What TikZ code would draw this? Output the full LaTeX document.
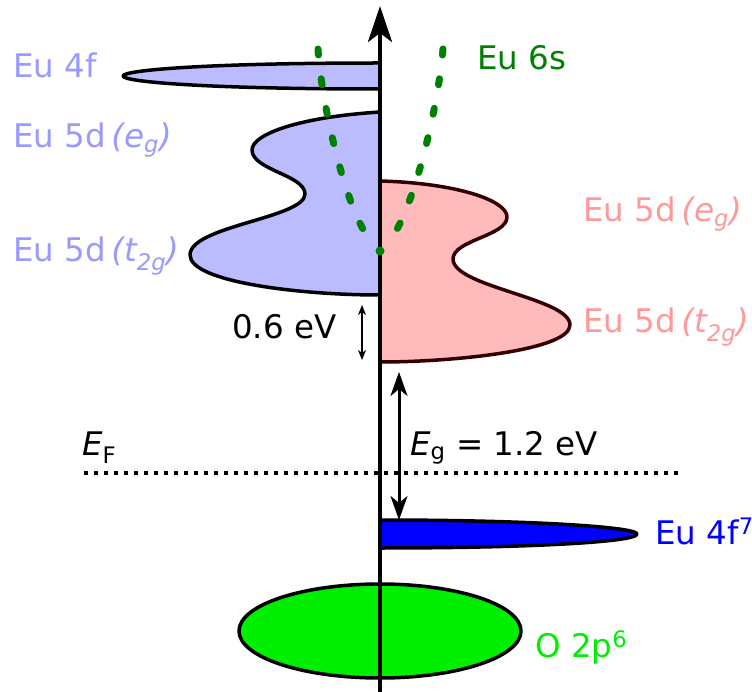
\documentclass[tikz,border=0pt]{standalone}
\usepackage{fontspec}
\setmainfont{DejaVu Sans}
\usetikzlibrary{arrows.meta}
\definecolor{lblue}{RGB}{153,153,255}
\definecolor{lbfill}{RGB}{187,187,255}
\definecolor{pinkfill}{RGB}{255,187,187}
\definecolor{pinktxt}{RGB}{255,153,153}
\definecolor{dkgreen}{RGB}{0,128,0}
\definecolor{brgreen}{RGB}{0,238,0}
\definecolor{dkred}{RGB}{50,0,0}
\definecolor{fblue}{RGB}{0,0,255}
\begin{document}
\begin{tikzpicture}[x=1pt,y=-1pt,
  lbl/.style={anchor=base west, inner sep=0pt, font=\fontsize{32.5}{39}\selectfont},
  band/.style={line width=3.5pt, line join=round},
  sdash/.style={dkgreen, line width=7pt, line cap=round, dash pattern=on 6pt off 24pt, shorten >=14pt},
  gaparrow/.style={line width=3pt, {Stealth[length=24pt,width=17pt,inset=7pt]}-{Stealth[length=24pt,width=17pt,inset=7pt]}},
  smallarrow/.style={line width=1.5pt, {Stealth[length=10pt,width=8pt,inset=3pt]}-{Stealth[length=10pt,width=8pt,inset=3pt]}}]
\useasboundingbox (0,0) rectangle (752,692);
% coordinates
\coordinate (axbot) at (380,692);
\coordinate (axtop) at (380,6);
\coordinate (vtx) at (380,251);
\coordinate (sl) at (318,49);
\coordinate (sr) at (443,49);
\coordinate (a6t) at (362,305);
\coordinate (a6b) at (362,360);
\coordinate (agt) at (399,372);
\coordinate (agb) at (399,520);
\coordinate (efl) at (84,473);
\coordinate (efr) at (681,473);
% Eu 4f (left)
\draw[band, fill=lbfill] (380,63) .. controls (210,63) and (123,70) .. (123,76)
  .. controls (123,82) and (210,89) .. (380,89) -- cycle;
% Eu 5d left
\draw[band, fill=lbfill] (380,112) .. controls (300,117) and (252,134) .. (252,150)
  .. controls (252,170) and (305,175) .. (305,194)
  .. controls (305,218) and (190,226) .. (190,255)
  .. controls (190,282) and (300,295) .. (380,295) -- cycle;
% Eu 5d right (pink)
\draw[band, draw=dkred, fill=pinkfill] (380,181) .. controls (455,183) and (507,200) .. (507,217)
  .. controls (507,236) and (453,240) .. (453,259)
  .. controls (453,287) and (570,298) .. (570,325)
  .. controls (570,350) and (455,362) .. (380,362) -- cycle;
% Eu 4f7
\draw[band, fill=fblue] (380,520) .. controls (530,520) and (637,527) .. (637,534)
  .. controls (637,542) and (530,548) .. (380,548) -- cycle;
% O 2p
\draw[band, fill=brgreen] (380,631) ellipse [x radius=141pt, y radius=47pt];
% axis
\draw[line width=4pt, -{Stealth[length=36pt,width=24pt,inset=9pt]}] (axbot) -- (axtop);
% Eu 6s dashed
\draw[sdash] (sl) .. controls (322,110) and (348,215) .. (vtx);
\draw[sdash] (sr) .. controls (438,110) and (412,215) .. (vtx);
\fill[dkgreen] (vtx) circle (4.5pt);
% Fermi level
\draw[line width=4pt, dash pattern=on 4pt off 6pt] (efl) -- (efr);
% arrows
\draw[smallarrow] (a6t) -- (a6b);
\draw[gaparrow] (agt) -- (agb);
% labels
\node[lbl, lblue] (l4f) at (13,78) {Eu 4f};
\node[lbl, lblue] (l5de) at (13,148) {Eu 5d\,{\itshape(e\textsubscript{g})}};
\node[lbl, lblue] (l5dt) at (13,262) {Eu 5d\,{\itshape(t\textsubscript{2g})}};
\node[lbl, dkgreen] (l6s) at (477,70) {Eu 6s};
\node[lbl, pinktxt] (r5de) at (583,222) {Eu 5d\,{\itshape(e\textsubscript{g})}};
\node[lbl, pinktxt] (r5dt) at (583,333) {Eu 5d\,{\itshape(t\textsubscript{2g})}};
\node[lbl, fblue] (l4f7) at (655,544) {Eu 4f\textsuperscript{7}};
\node[lbl, brgreen] (lo2p) at (535,657) {O 2p\textsuperscript{6}};
\node[lbl] (l06) at (232,338) {0.6 eV};
\node[lbl] (leg) at (410,455) {{\itshape E}\textsubscript{g} = 1.2 eV};
\node[lbl] (lef) at (82,455) {{\itshape E}\textsubscript{F}};
\end{tikzpicture}
\end{document}
